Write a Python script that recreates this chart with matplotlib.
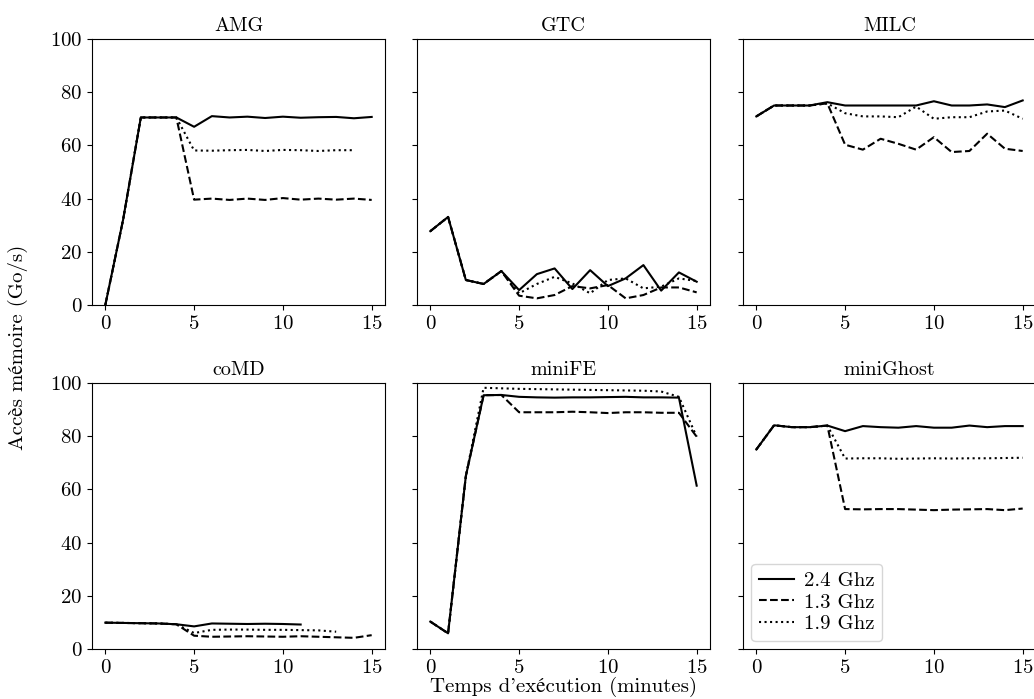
import matplotlib
matplotlib.use("Agg")
import matplotlib.pyplot as plt

plt.rcParams['font.family'] = ['cmr10', 'STIXGeneral', 'DejaVu Serif']
plt.rcParams['axes.formatter.use_mathtext'] = True
plt.rcParams['mathtext.fontset'] = 'cm'

apps = ["AMG", "GTC", "MILC", "coMD", "miniFE", "miniGhost"]
freqs = ["2.4 Ghz", "1.3 Ghz", "1.9 Ghz"]

# AMG
amg_24 = [0, 32, 70.5, 70.5, 70.5, 67, 71, 70.5, 70.8, 70.3, 70.8, 70.4, 70.6, 70.7, 70.2, 70.7]
amg_13 = [0, 32, 70.5, 70.5, 70.5, 39.6, 40, 39.5, 40, 39.5, 40.2, 39.6, 40, 39.6, 40, 39.5]
amg_19 = [0, 32, 70.5, 70.5, 70.5, 58.1, 58.0, 58.2, 58.3, 57.9, 58.3, 58.2, 57.9, 58.2, 58.2]
# GTC
gtc_24 = [27.75, 33.1, 9.4, 7.9, 12.75, 5.6, 11.6, 13.75, 6.0, 13.1, 7.1, 10.0, 15.0, 5.4, 12.25, 8.75]
gtc_13 = [27.75, 33.1, 9.4, 7.9, 12.75, 3.5, 2.5, 3.75, 7.1, 6.25, 7.5, 2.5, 3.75, 6.6, 6.6, 4.75]
gtc_19 = [27.75, 33.1, 9.4, 7.9, 12.75, 4.4, 7.9, 10.6, 8.1, 4.4, 9.4, 10.0, 6.25, 6.9, 10.0, 9.0]
# MILC
milc_24 = [70.9, 75, 75, 75, 76.25, 75, 75, 75, 75, 75, 76.6, 75, 75, 75.4, 74.4, 76.9]
milc_13 = [70.9, 75, 75, 75, 75.8, 60.25, 58.4, 62.5, 60.6, 58.4, 63.1, 57.5, 57.9, 64.4, 58.75, 57.9]
milc_19 = [70.9, 75, 75, 75, 75.8, 72.1, 70.9, 70.9, 70.6, 74.6, 70.0, 70.6, 70.6, 72.75, 73.1, 70.0]
# coMD
comd_24 = [9.9, 9.8, 9.7, 9.6, 9.3, 8.5, 9.6, 9.5, 9.4, 9.5, 9.4, 9.2]
comd_13 = [9.9, 9.8, 9.7, 9.6, 9.3, 5.0, 4.6, 4.7, 4.8, 4.7, 4.6, 4.8, 4.6, 4.4, 4.2, 5.2]
comd_19 = [9.9, 9.8, 9.7, 9.6, 9.3, 6.0, 7.2, 7.3, 7.3, 7.2, 7.2, 7.1, 7.0, 6.5]
# miniFE
minife_24 = [10.3, 5.9, 65, 95.4, 95.5, 94.8, 94.6, 94.5, 94.6, 94.6, 94.7, 94.8, 94.6, 94.6, 94.5, 61.4]
minife_13 = [10.3, 5.9, 65, 95.4, 95.5, 89, 89, 89, 89.2, 89, 88.7, 89, 89, 88.8, 88.8, 79.8]
minife_19 = [10.3, 5.9, 65, 98.2, 98.0, 97.8, 97.7, 97.6, 97.5, 97.4, 97.3, 97.2, 97.1, 96.8, 94.8, 79.8]
# miniGhost
ghost_24 = [75, 84.1, 83.4, 83.4, 84, 81.9, 83.8, 83.4, 83.2, 83.8, 83.2, 83.2, 84, 83.4, 83.8, 83.8]
ghost_13 = [75, 84.1, 83.4, 83.4, 84, 52.6, 52.5, 52.6, 52.6, 52.4, 52.2, 52.4, 52.5, 52.6, 52.2, 52.8]
ghost_19 = [75, 84.1, 83.4, 83.4, 84, 71.6, 71.7, 71.7, 71.5, 71.6, 71.7, 71.6, 71.7, 71.7, 71.8, 71.9]

series = {
    "AMG": (amg_24, amg_13, amg_19),
    "GTC": (gtc_24, gtc_13, gtc_19),
    "MILC": (milc_24, milc_13, milc_19),
    "coMD": (comd_24, comd_13, comd_19),
    "miniFE": (minife_24, minife_13, minife_19),
    "miniGhost": (ghost_24, ghost_13, ghost_19),
}
styles = ["-", "--", ":"]

FS = 15

W, H = 1034, 699
fig = plt.figure(figsize=(W / 100, H / 100), dpi=100)

lefts = [92, 417, 743]
width = 293
tops = [39, 383]
height = 266

axes = []
for r in range(2):
    for c in range(3):
        rect = [lefts[c] / W, 1 - (tops[r] + height) / H, width / W, height / H]
        ax = fig.add_axes(rect)
        axes.append(ax)

for i, (ax, app) in enumerate(zip(axes, apps)):
    vals = series[app]
    for v, ls, lab in zip(vals, styles, freqs):
        ax.plot(range(len(v)), v, color="black", linestyle=ls, linewidth=1.5, label=lab)
    ax.set_ylim(0, 100)
    ax.set_xlim(-0.75, 15.75)
    ax.set_xticks([0, 5, 10, 15])
    ax.set_yticks([0, 20, 40, 60, 80, 100])
    ax.set_title(app, fontsize=14.5)
    ax.tick_params(labelsize=FS)
    if i % 3 != 0:
        ax.tick_params(labelleft=False)

axes[5].legend(loc="lower left", fontsize=FS, handlelength=1.7, handletextpad=0.5,
               labelspacing=0.15, borderpad=0.35, borderaxespad=0.4)

fig.text(563 / W, 1 - 687 / H, "Temps d'exécution (minutes)", ha="center", va="center", fontsize=FS)
fig.text(18 / W, 1 - 347 / H, "Accès mémoire (Go/s)", ha="center", va="center", rotation=90, fontsize=FS)

fig.savefig("out.png", dpi=100)
